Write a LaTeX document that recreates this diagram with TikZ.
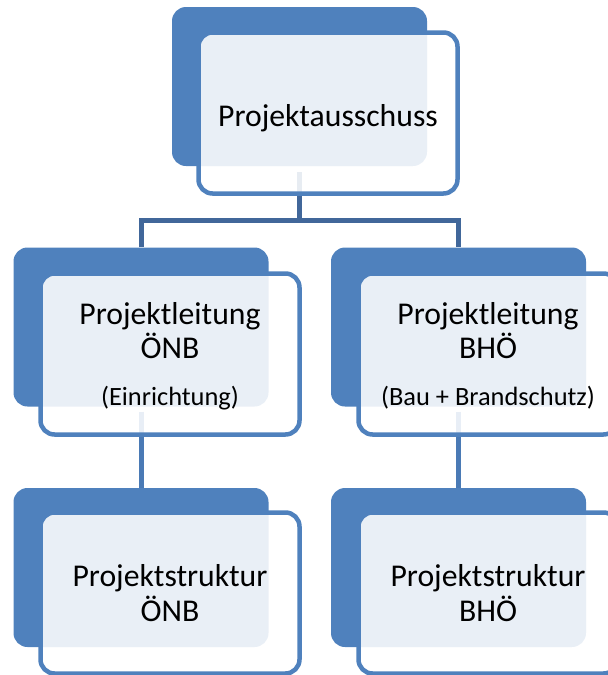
\documentclass[tikz,border=0pt]{standalone}
\usepackage{fontspec}
\setmainfont{Carlito}
\definecolor{boxblue}{HTML}{4F81BD}
\definecolor{connblue}{HTML}{41679A}
\definecolor{connlight}{HTML}{4A7AB5}
\newcommand\subtxt[1]{\raisebox{0pt}[\height][0pt]{\fontsize{26.4}{30}\selectfont #1}}
\tikzset{
  backbox/.style={draw=none, fill=boxblue, rounded corners=14pt, minimum width=255pt, minimum height=159pt, inner sep=0pt},
  frontbox/.style={draw=boxblue, line width=4.5pt, fill=white, fill opacity=0.88, text opacity=1, rounded corners=14pt, minimum width=259pt, minimum height=161pt, inner sep=0pt, align=center, font=\fontsize{31.7}{34}\selectfont},
  link/.style={draw=connblue, line width=5pt},
  sublink/.style={draw=connlight, line width=5pt}
}
\begin{document}
\begin{tikzpicture}[x=1pt,y=-1pt]
\useasboundingbox (0,0) rectangle (608,675);
% back boxes
\node[backbox] (d1) at (299.5,86.5) {};
\node[backbox] (d2) at (141,327) {};
\node[backbox] (d3) at (458.5,327) {};
\node[backbox] (d4) at (141,567.5) {};
\node[backbox] (d5) at (458.5,567.5) {};
% connectors
\coordinate (bus) at (d1.south |- 0,220);
\draw[link] ([yshift=-6pt]d1.south) -- (bus);
\draw[link] (d2.north) |- (bus) -| (d3.north);
\draw[sublink] ([yshift=-5pt]d2.south) -- (d4.north);
\draw[sublink] ([yshift=-5pt]d3.south) -- (d5.north);
% front boxes
\node[frontbox] (o1) at (328,113) {\raisebox{-5pt}[\height][\depth]{Projektausschuss}};
\node[frontbox] (o2) at (170,354) {Projektleitung\\ÖNB\\[13pt]\subtxt{(Einrichtung)}};
\node[frontbox] (o3) at (488,354) {Projektleitung\\BHÖ\\[13pt]\subtxt{(Bau + Brandschutz)}};
\node[frontbox] (o4) at (170,593) {Projektstruktur\\[1pt]ÖNB};
\node[frontbox] (o5) at (488,593) {Projektstruktur\\[1pt]BHÖ};
\end{tikzpicture}
\end{document}
